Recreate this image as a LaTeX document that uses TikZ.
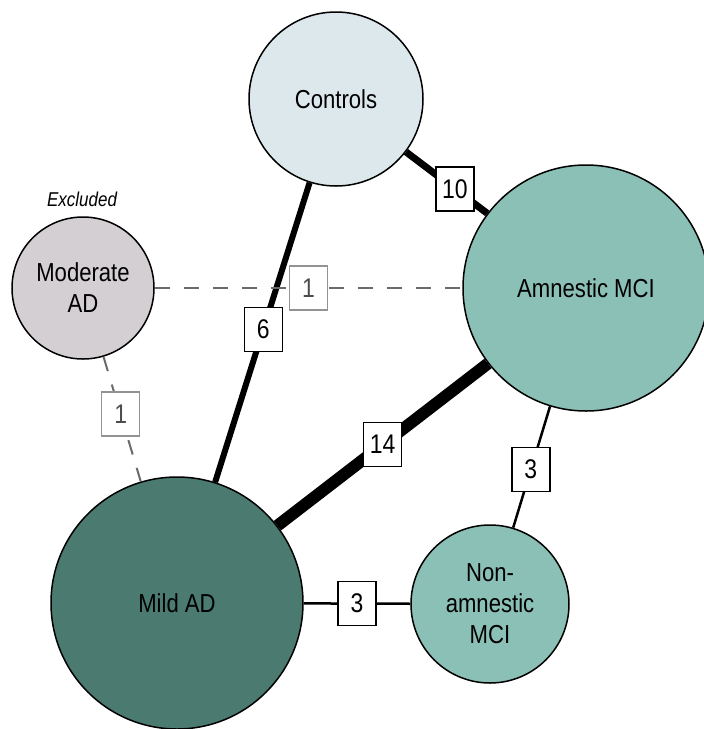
\documentclass[tikz,border=0pt]{standalone}
\usepackage{fontspec}
\setmainfont{Liberation Sans}[FakeStretch=0.85]

\definecolor{ctrlfill}{RGB}{221,232,236}
\definecolor{mcifill}{RGB}{139,192,182}
\definecolor{adfill}{RGB}{75,122,112}
\definecolor{modfill}{RGB}{211,207,211}
\definecolor{dashgray}{RGB}{106,106,106}

\begin{document}
\begin{tikzpicture}[x=1pt, y=-1pt]

\tikzstyle group=[circle, draw=black, line width=1.5pt, inner sep=0pt, align=center, font=\fontsize{26}{31}\selectfont]
\tikzstyle count=[solid, draw=black, fill=white, line width=1.5pt, minimum width=38pt, minimum height=44pt, inner sep=0pt, font=\fontsize{27}{30}\selectfont]
\tikzstyle dimcount=[count, draw=gray!85, text=black!70]
\tikzstyle link=[draw=black]
\tikzstyle dimlink=[draw=dashgray, line width=2.5pt, dash pattern=on 15pt off 14pt]

\useasboundingbox (0,0) rectangle (704,729);

\node (c) [group, fill=ctrlfill, minimum size=174pt] at (336,99) {Controls};
\node (a) [group, fill=mcifill, minimum size=246pt] at (586,288) {Amnestic MCI};
\node (m) [group, fill=modfill, minimum size=142pt] at (83,288) {Moderate\\AD};
\node (d) [group, fill=adfill, minimum size=252pt] at (177,603) {Mild AD};
\node (n) [group, fill=mcifill, minimum size=158pt] at (490,604) {Non-\\amnestic\\MCI};
\node (x) [font=\fontsize{20}{22}\selectfont\itshape] at (82,199) {Excluded};

\draw [link, line width=7pt] (c) -- node[count, pos=0.6] {10} (a);
\draw [link, line width=6pt] (c) -- node[count, pos=0.49] {6} (d);
\draw [link, line width=12pt] (d) -- node[count, pos=0.5] {14} (a);
\draw [link, line width=2.5pt] (a) -- node[count, pos=0.52] {3} (n);
\draw [link, line width=2.5pt] (d) -- node[count, pos=0.5] {3} (n);
\draw [dimlink] (m) -- node[dimcount, pos=0.5] {1} (a);
\draw [dimlink, line width=2pt] (m) -- node[dimcount, pos=0.46] {1} (d);

\end{tikzpicture}
\end{document}
